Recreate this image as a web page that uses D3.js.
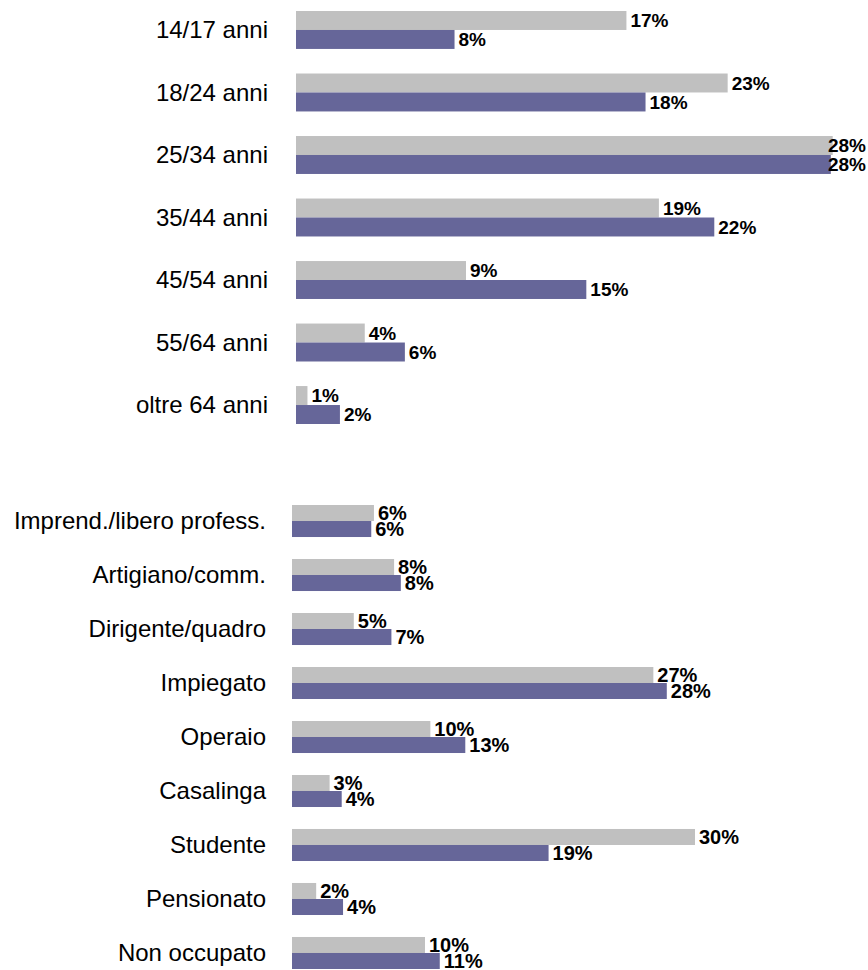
<!DOCTYPE html>
<html>
<head>
<meta charset="utf-8">
<script src="https://cdn.jsdelivr.net/npm/d3@7"></script>
<style>
  body { margin: 0; background: #fff; }
  text { font-family: Arial, 'Liberation Sans', sans-serif; }
</style>
</head>
<body>
<div class="canvas"></div>
<script>
// age groups
const ages = ['14/17 anni', '18/24 anni', '25/34 anni', '35/44 anni', '45/54 anni', '55/64 anni', 'oltre 64 anni']
const ageGray = [17.3, 22.6, 28.1, 19.0, 8.9, 3.6, 0.6]
const agePurple = [8.3, 18.3, 28.0, 21.9, 15.2, 5.7, 2.3]

// professions
const jobs = ['Imprend./libero profess.', 'Artigiano/comm.', 'Dirigente/quadro', 'Impiegato', 'Operaio', 'Casalinga', 'Studente', 'Pensionato', 'Non occupato']
const jobGray = [6.1, 7.6, 4.6, 26.9, 10.3, 2.8, 30.0, 1.8, 9.9]
const jobPurple = [5.9, 8.1, 7.4, 27.9, 12.9, 3.7, 19.1, 3.8, 11.0]

const dimension = { width: 868, height: 970 }
const colors = { gray: '#c0c0c0', purple: '#666699' }

const svg = d3.select('.canvas')
  .append('svg')
  .attr('width', dimension.width)
  .attr('height', dimension.height)

// draws one block of paired bars
const panel = (cfg) => {
  const x = d3.scaleLinear().domain([0, 30]).range([cfg.x0, cfg.x0 + cfg.span])
  const y = d3.scaleBand()
    .domain(cfg.cats)
    .range(cfg.yRange)
    .paddingInner(cfg.pad)
    .paddingOuter(0)
  const half = y.bandwidth() / 2

  const rows = cfg.cats.map((c, i) => ({ cat: c, g: cfg.gray[i], p: cfg.purple[i] }))
  const g = svg.append('g')

  // category labels
  g.selectAll('text.cat')
    .data(rows)
    .enter().append('text')
      .attr('class', 'cat')
      .attr('x', cfg.labelX)
      .attr('y', d => y(d.cat) + half)
      .attr('dy', '0.35em')
      .attr('text-anchor', 'end')
      .attr('font-size', cfg.catSize)
      .attr('fill', '#000')
      .text(d => d.cat)

  const series = [
    { key: 'g', color: colors.gray, off: 0 },
    { key: 'p', color: colors.purple, off: half }
  ]

  series.forEach(s => {
    g.selectAll(`rect.${s.key}`)
      .data(rows)
      .enter().append('rect')
        .attr('class', s.key)
        .attr('x', x(0))
        .attr('y', d => y(d.cat) + s.off)
        .attr('width', d => x(d[s.key]) - x(0))
        .attr('height', half)
        .attr('fill', s.color)
  })

  series.forEach(s => {
    g.selectAll(`text.v${s.key}`)
      .data(rows)
      .enter().append('text')
        .attr('class', 'v' + s.key)
        .attr('x', d => x(d[s.key]) + 4)
        .attr('y', d => y(d.cat) + s.off + half / 2)
        .attr('dy', '0.36em')
        .attr('font-size', cfg.valSize)
        .attr('font-weight', 'bold')
        .attr('fill', '#000')
        .text(d => Math.round(d[s.key]) + '%')
        // keep labels inside the picture
        .each(function () {
          const w = this.getComputedTextLength()
          const xx = +this.getAttribute('x')
          if (xx + w > dimension.width - 2) this.setAttribute('x', dimension.width - 2 - w)
        })
  })
}

panel({
  cats: ages, gray: ageGray, purple: agePurple,
  x0: 296, span: 573, yRange: [11, 424], pad: 0.393,
  labelX: 268, catSize: 24, valSize: 19
})

panel({
  cats: jobs, gray: jobGray, purple: jobPurple,
  x0: 292, span: 403, yRange: [505, 969], pad: 0.407,
  labelX: 266, catSize: 24, valSize: 20
})
</script>
</body>
</html>
